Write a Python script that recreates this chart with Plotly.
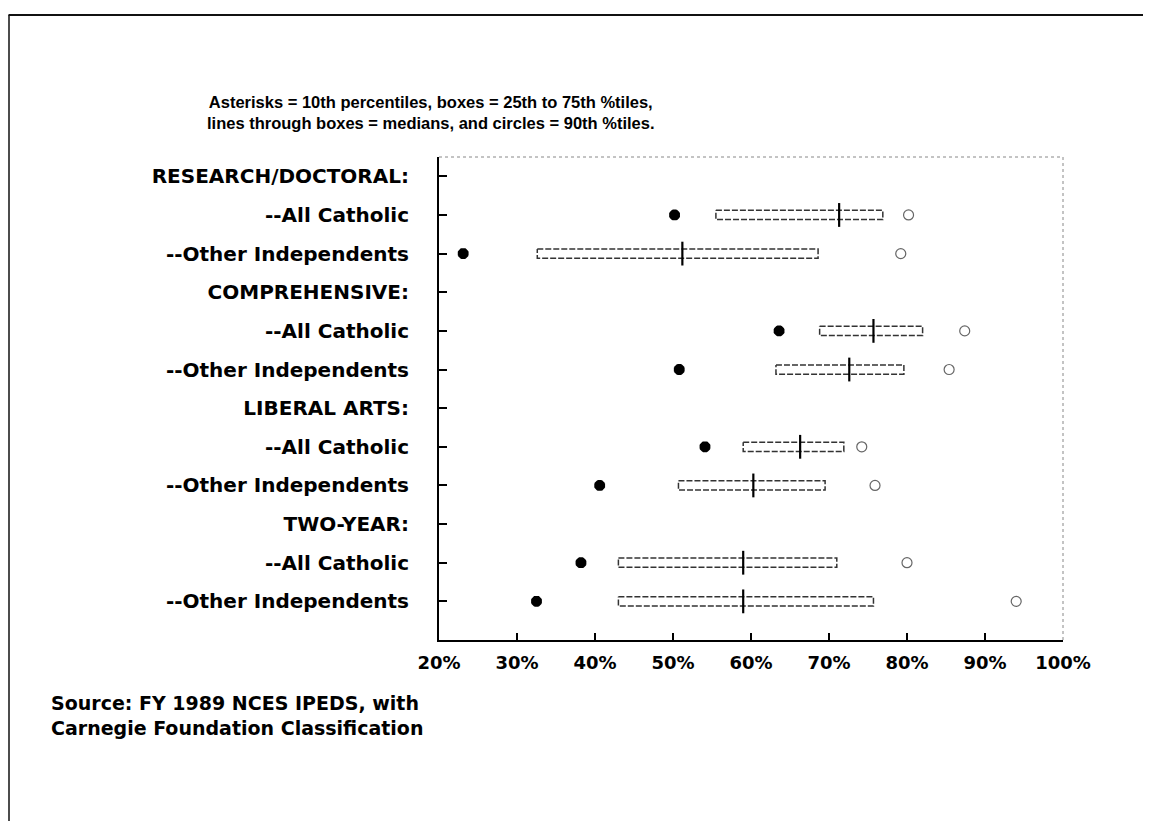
import plotly.graph_objects as go

# ---- data ----
row_labels = [
    "RESEARCH/DOCTORAL:", "--All Catholic", "--Other Independents",
    "COMPREHENSIVE:", "--All Catholic", "--Other Independents",
    "LIBERAL ARTS:", "--All Catholic", "--Other Independents",
    "TWO-YEAR:", "--All Catholic", "--Other Independents",
]
# data rows (index into row_labels)
data_rows = [1, 2, 4, 5, 7, 8, 10, 11]
p10 = [50.2, 23.1, 63.6, 50.8, 54.1, 40.6, 38.2, 32.5]
q1 = [55.5, 32.6, 68.8, 63.2, 59.0, 50.7, 43.0, 43.0]
median = [71.3, 51.2, 75.7, 72.6, 66.3, 60.3, 59.0, 59.0]
q3 = [76.9, 68.6, 82.0, 79.6, 71.9, 69.5, 71.0, 75.7]
p90 = [80.2, 79.2, 87.4, 85.4, 74.2, 75.9, 80.0, 94.0]
x_ticks = [20, 30, 40, 50, 60, 70, 80, 90, 100]
x_tick_text = ["20%", "30%", "40%", "50%", "60%", "70%", "80%", "90%", "100%"]

title_lines = [
    "Asterisks = 10th percentiles, boxes = 25th to 75th %tiles,",
    "lines through boxes = medians, and circles = 90th %tiles.",
]
source_lines = ["Source: FY 1989 NCES IPEDS, with", "Carnegie Foundation Classification"]

# ---- figure ----
W, H = 1135, 813
fig = go.Figure()

# boxes (25th-75th) as outlined rectangles
hh = 0.12
bx, by = [], []
for r, a, b in zip(data_rows, q1, q3):
    bx += [a, b, b, a, a, None]
    by += [r - hh, r - hh, r + hh, r + hh, r - hh, None]
fig.add_trace(go.Scatter(x=bx, y=by, mode="lines",
                         line=dict(color="#333333", width=1.5, dash="6px,2px"),
                         hoverinfo="skip", showlegend=False))

# medians
fig.add_trace(go.Scatter(x=median, y=data_rows, mode="markers",
                         marker=dict(symbol="line-ns-open", size=17, color="black",
                                     line=dict(color="black", width=2.2)),
                         showlegend=False))
# 10th percentiles (asterisks)
fig.add_trace(go.Scatter(x=p10, y=data_rows, mode="markers",
                         marker=dict(symbol="asterisk-open", size=9, color="black",
                                     line=dict(color="black", width=4)),
                         showlegend=False))
# 90th percentiles (circles)
fig.add_trace(go.Scatter(x=p90, y=data_rows, mode="markers",
                         marker=dict(symbol="circle-open", size=10, color="#666666",
                                     line=dict(color="#666666", width=1.2)),
                         showlegend=False))

label_font = dict(family="DejaVu Sans", size=20, color="black", weight="bold")

fig.update_layout(
    width=W, height=H,
    margin=dict(l=431, r=80, t=149, b=181),
    paper_bgcolor="white", plot_bgcolor="white",
    showlegend=False,
    xaxis=dict(range=[20, 100], tickmode="array", tickvals=x_ticks, ticktext=x_tick_text,
               showgrid=False, zeroline=False,
               showline=True, linecolor="black", linewidth=1.5,
               ticks="inside", ticklen=7, tickwidth=1.5, tickcolor="black",
               ticklabelstandoff=6,
               tickfont=dict(family="DejaVu Sans", size=18, color="black", weight="bold")),
    yaxis=dict(range=[12, -0.5], tickmode="array", tickvals=list(range(len(row_labels))),
               ticktext=row_labels,
               showgrid=False, zeroline=False,
               showline=True, linecolor="black", linewidth=2,
               ticks="inside", ticklen=8, tickwidth=1.5, tickcolor="black",
               ticklabelstandoff=24,
               tickfont=label_font),
)

# faint top and right borders of the plot frame
fig.add_shape(type="line", xref="paper", yref="paper", x0=0, x1=1, y0=1, y1=1,
              line=dict(color="#888888", width=1, dash="dot"))
fig.add_shape(type="line", xref="paper", yref="paper", x0=1, x1=1, y0=0, y1=1,
              line=dict(color="#888888", width=1, dash="dot"))

# helpers: page pixel -> paper coords (plot area spans x 439..1063, y 157..640)
pw, ph = 624.0, 483.0
def px(xp):
    return (xp - 439) / pw
def py(yp):
    return (640 - yp) / ph

# outer page frame (top and left edges)
fig.add_shape(type="line", xref="paper", yref="paper", x0=px(8.5), x1=px(1151), y0=py(15), y1=py(15),
              line=dict(color="#111111", width=2))
fig.add_shape(type="line", xref="paper", yref="paper", x0=px(9), x1=px(9), y0=py(15), y1=py(829),
              line=dict(color="#111111", width=1.5))

# title
fig.add_annotation(xref="paper", yref="paper", x=px(430), y=py(112.5),
                   xanchor="center", yanchor="middle", showarrow=False,
                   text="<br>".join(title_lines), align="center",
                   font=dict(family="Liberation Sans", size=16.5, color="black", weight="bold"))

# source
fig.add_annotation(xref="paper", yref="paper", x=px(49), y=py(715),
                   xanchor="left", yanchor="middle", showarrow=False,
                   text="<br>".join(source_lines), align="left",
                   font=dict(family="DejaVu Sans", size=19, color="black", weight="bold"))

fig.write_html("out.html")
